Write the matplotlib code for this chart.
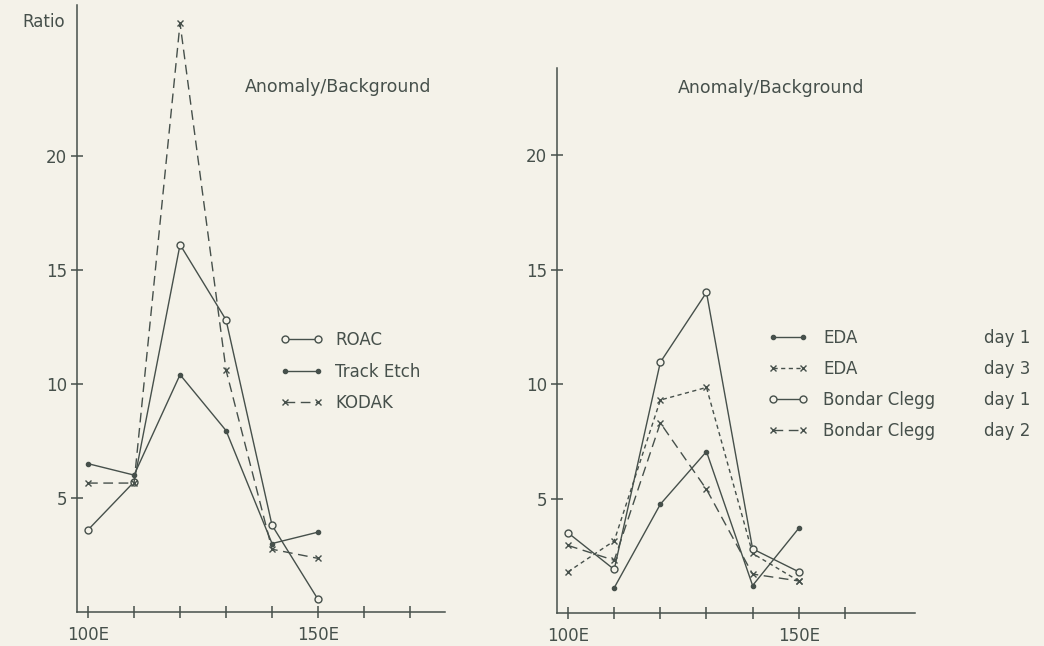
import numpy as np
import matplotlib
matplotlib.use("Agg")
import matplotlib.pyplot as plt

# positions along the traverse
xpos = [100, 110, 120, 130, 140, 150]

# left panel: Anomaly/Background ratio
roac = [3.6, 5.7, 16.1, 12.8, 3.8, 0.55]
track_etch = [6.5, 6.0, 10.4, 7.95, 3.0, 3.5]
kodak = [5.65, 5.65, 25.8, 10.6, 2.75, 2.35]

# right panel
eda_x = [110, 120, 130, 140, 150]
eda_day1 = [1.1, 4.75, 7.05, 1.2, 3.7]
eda_day3 = [1.8, 3.15, 9.3, 9.85, 2.6, 1.4]
bc_day1 = [3.5, 1.9, 10.95, 14.0, 2.8, 1.8]
bc_day2 = [2.95, 2.3, 8.3, 5.4, 1.7, 1.4]

yticks = [5, 10, 15, 20]
xlabels = {100: "100E", 150: "150E"}

ink = "#46504b"
paper = "#f4f2e9"
fs = 12

plt.rcParams['font.family'] = ['DejaVu Sans']
fig = plt.figure(figsize=(10.44, 6.46), dpi=100, facecolor=paper)

axL = fig.add_axes([77/1044, 1-612/646, 368/1044, 607/646])
axR = fig.add_axes([557/1044, 1-613/646, 358/1044, 545/646])


def style(ax, xmax, ymax, ticks_x):
    ax.set_facecolor(paper)
    ax.set_xlim(97.6, xmax)
    ax.set_ylim(0, ymax)
    for s in ["top", "right"]:
        ax.spines[s].set_visible(False)
    for s in ["left", "bottom"]:
        ax.spines[s].set_color(ink)
        ax.spines[s].set_linewidth(1.1)
    ax.set_yticks(yticks)
    ax.set_yticklabels([str(t) for t in yticks])
    ax.set_xticks(ticks_x)
    ax.set_xticklabels([xlabels.get(t, "") for t in ticks_x])
    ax.tick_params(direction="inout", length=8, width=1.1, color=ink,
                   labelcolor=ink, labelsize=fs)
    ax.tick_params(axis="x", pad=6)
    ax.tick_params(axis="y", pad=3)


style(axL, 177.6, 26.6, list(range(100, 180, 10)))
style(axR, 175.2, 23.8, list(range(100, 170, 10)))

lw = 1.0
axL.plot(xpos, roac, color=ink, lw=lw, marker="o", ms=5, mfc=paper, mec=ink, label="ROAC")
axL.plot(xpos, track_etch, color=ink, lw=lw, marker="o", ms=3, mfc=ink, mec=ink, label="Track Etch")
axL.plot(xpos, kodak, color=ink, lw=lw, marker="x", ms=5, mew=1.0, dashes=(7, 4), label="KODAK")

axR.plot(eda_x, eda_day1, color=ink, lw=lw, marker="o", ms=3, mfc=ink, mec=ink, label="EDA")
axR.plot(xpos, eda_day3, color=ink, lw=lw, marker="x", ms=5, mew=1.0, dashes=(3, 2.5), label="EDA")
axR.plot(xpos, bc_day1, color=ink, lw=lw, marker="o", ms=5, mfc=paper, mec=ink, label="Bondar Clegg")
axR.plot(xpos, bc_day2, color=ink, lw=lw, marker="x", ms=5, mew=1.0, dashes=(7, 4), label="Bondar Clegg")

legL = axL.legend(loc="upper left", bbox_to_anchor=((280-77)/368, (612-331)/607),
                  frameon=False, numpoints=2, handlelength=2.6, handletextpad=0.7,
                  labelspacing=0.82, fontsize=fs, borderpad=0, borderaxespad=0)
legR = axR.legend(loc="upper left", bbox_to_anchor=((768-557)/358, (613-329)/545),
                  frameon=False, numpoints=2, handlelength=2.4, handletextpad=0.9,
                  labelspacing=0.78, fontsize=fs, borderpad=0, borderaxespad=0)
for leg in (legL, legR):
    for t in leg.get_texts():
        t.set_color(ink)

fig.text(22/1044, 1-22/646, "Ratio", color=ink, fontsize=fs, va="center")
fig.text(245/1044, 1-87/646, "Anomaly/Background", color=ink, fontsize=fs + 0.5, va="center")
fig.text(678/1044, 1-88/646, "Anomaly/Background", color=ink, fontsize=fs + 0.5, va="center")

# day column next to the right legend
days = ["day 1", "day 3", "day 1", "day 2"]
fig.canvas.draw()
inv = fig.transFigure.inverted()
for t, d in zip(legR.get_texts(), days):
    bb = t.get_window_extent()
    yc = inv.transform((0, (bb.y0 + bb.y1) / 2))[1]
    fig.text(1030/1044, yc, d, color=ink, fontsize=fs, va="center", ha="right")

fig.savefig("out.png", dpi=100, facecolor=paper)
